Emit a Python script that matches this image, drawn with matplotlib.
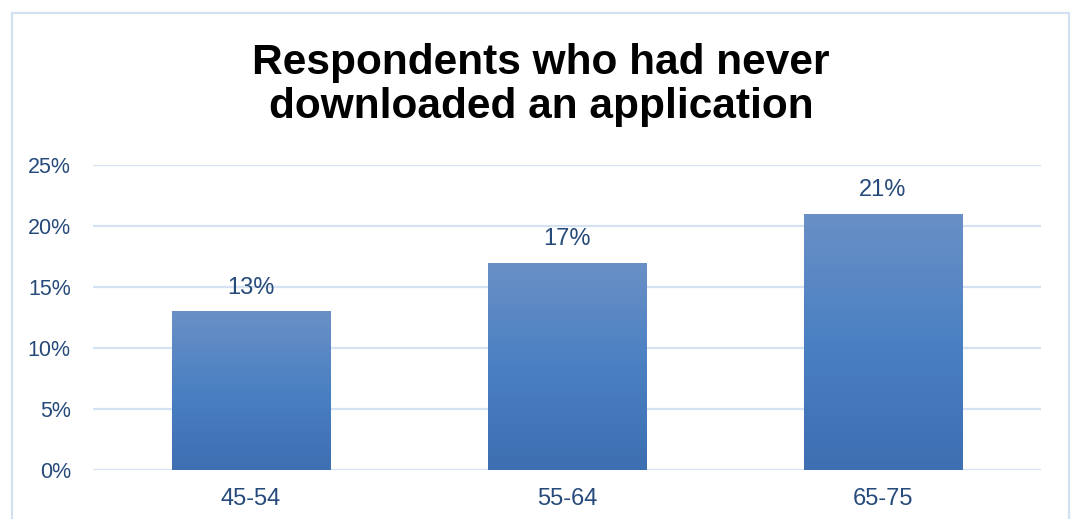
import numpy as np
import matplotlib
matplotlib.use("Agg")
import matplotlib.pyplot as plt
from matplotlib.colors import LinearSegmentedColormap
from matplotlib.patches import Rectangle
from matplotlib.ticker import FuncFormatter

categories = ["45-54", "55-64", "65-75"]
values = [13, 17, 21]
yticks = [0, 5, 10, 15, 20, 25]
title = "Respondents who had never\ndownloaded an application"

text_color = "#264a7a"
grid_color = "#d6e2f3"
plt.rcParams["font.family"] = ["Liberation Sans", "DejaVu Sans"]

fig = plt.figure(figsize=(10.71, 5.19), dpi=100)
W, H = 1071, 519

# chart frame
fig.patches.append(Rectangle((12 / W, -0.1), (1069 - 12) / W, (519 - 13) / H + 0.1,
                             transform=fig.transFigure, fill=False,
                             edgecolor="#d3e1f3", linewidth=1.6))

ax = fig.add_axes([93 / W, 1 - 470 / H, (1041 - 93) / W, (470 - 165) / H])

for s in ax.spines.values():
    s.set_visible(False)
ax.set_yticks(yticks)
ax.yaxis.set_major_formatter(FuncFormatter(lambda v, p: f"{v:.0f}%"))
ax.grid(axis="y", color=grid_color, linewidth=1.6)
ax.set_axisbelow(True)
ax.tick_params(axis="both", length=0, labelcolor=text_color)
ax.tick_params(axis="y", pad=16, labelsize=15.5)
ax.tick_params(axis="x", pad=13, labelsize=17)
ax.set_xticks(range(len(categories)))
ax.set_xticklabels(categories)

cmap = LinearSegmentedColormap.from_list("bar", ["#3d6fb1", "#4a80c2", "#6a90c6"])
grad = np.linspace(0, 1, 256).reshape(-1, 1)
width = 0.503
bars = ax.bar(range(len(categories)), values, width=width, color="none", zorder=3)
for b, v in zip(bars, values):
    x0 = b.get_x()
    im = ax.imshow(grad, extent=(x0, x0 + width, 0, v), origin="lower",
                   cmap=cmap, aspect="auto", zorder=3)
    im.set_clip_path(b)
    ax.annotate(f"{v}%", (b.get_x() + width / 2, v), xytext=(0, 9),
                textcoords="offset points", ha="center", va="bottom",
                color=text_color, fontsize=17)
ax.set_xlim(-0.5, len(categories) - 0.5)
ax.set_ylim(0, 25)

fig.text(541 / W, 1 - 85 / H, title, ha="center", va="center",
         fontsize=30.5, fontweight="bold", color="black", linespacing=1.1)

fig.savefig("out.png", dpi=100)
